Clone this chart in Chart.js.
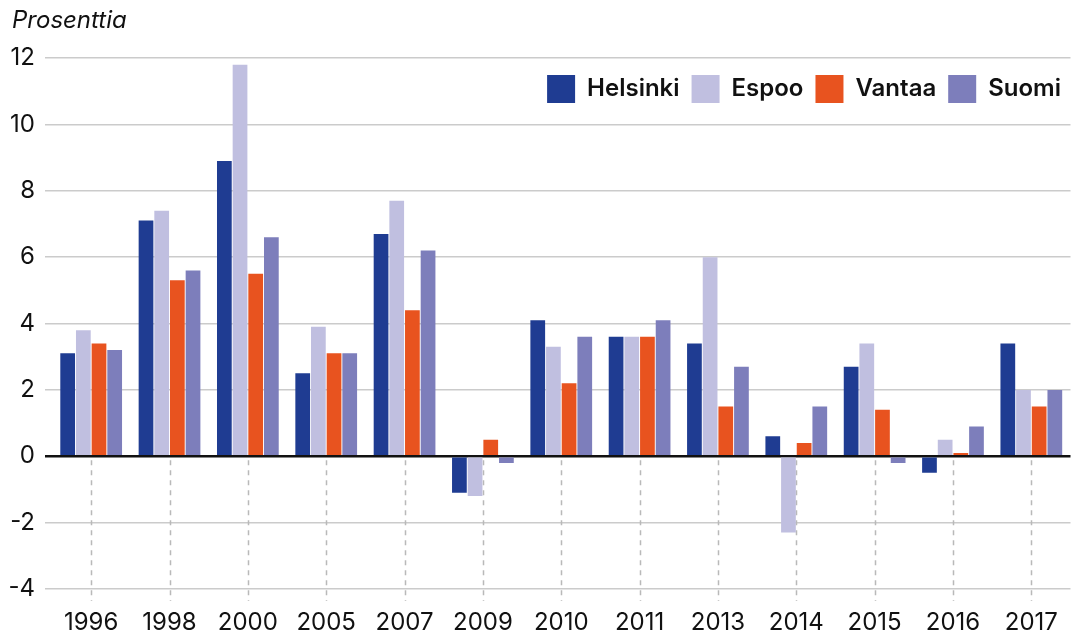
<!DOCTYPE html>
<html>
<head>
<meta charset="utf-8">
<script src="https://cdn.jsdelivr.net/npm/chart.js@4.4.0/dist/chart.umd.min.js"></script>
<style>
  html, body { margin: 0; padding: 0; background: #fff; }
  canvas { display: block; }
</style>
</head>
<body>
<canvas id="chart" width="1080" height="635"></canvas>
<script>
const years = ['1996', '1998', '2000', '2005', '2007', '2009', '2010', '2011', '2013', '2014', '2015', '2016', '2017']
const helsinki = [3.1, 7.1, 8.9, 2.5, 6.7, -1.1, 4.1, 3.6, 3.4, 0.6, 2.7, -0.5, 3.4]
const espoo = [3.8, 7.4, 11.8, 3.9, 7.7, -1.2, 3.3, 3.6, 6.0, -2.3, 3.4, 0.5, 2.0]
const vantaa = [3.4, 5.3, 5.5, 3.1, 4.4, 0.5, 2.2, 3.6, 1.5, 0.4, 1.4, 0.1, 1.5]
const suomi = [3.2, 5.6, 6.6, 3.1, 6.2, -0.2, 3.6, 4.1, 2.7, 1.5, -0.2, 0.9, 2.0]
const yTicks = [-4, -2, 0, 2, 4, 6, 8, 10, 12]
const unitLabel = 'Prosenttia'

const FONT = 'Inter'

// dashed guide lines under each year, from the zero line down
const zeroDashes = {
  id: 'zeroDashes',
  beforeDatasetsDraw(chart) {
    const { ctx, scales: { x, y }, chartArea } = chart
    const y0 = y.getPixelForValue(0)
    ctx.save()
    ctx.strokeStyle = '#b9b9b9'
    ctx.lineWidth = 1.5
    ctx.setLineDash([5, 5])
    years.forEach((yr, i) => {
      const px = Math.round(x.getPixelForTick(i)) + 0.5
      ctx.beginPath()
      ctx.moveTo(px, y0 + 4)
      ctx.lineTo(px, chartArea.bottom + 12)
      ctx.stroke()
    })
    ctx.restore()
  }
}

const unitTitle = {
  id: 'unitTitle',
  afterDraw(chart) {
    const ctx = chart.ctx
    ctx.save()
    ctx.font = `italic 24px ${FONT}`
    ctx.fillStyle = '#111'
    ctx.textBaseline = 'middle'
    ctx.fillText(unitLabel, 12, 21)
    ctx.restore()
  }
}

// legend is laid out on top, then moved down into the plot
const legendShift = {
  id: 'legendShift',
  afterLayout(chart) {
    const lg = chart.legend
    const h = lg.bottom - lg.top
    lg.top = 63
    lg.bottom = 63 + h
    lg.left -= 4
    lg.right -= 4
  }
}

const ctx = document.getElementById('chart').getContext('2d')
const myChart = new Chart(ctx, {
  type: 'bar',
  data: {
    labels: years,
    datasets: [
      { label: 'Helsinki', data: helsinki, backgroundColor: '#1f3c92' },
      { label: 'Espoo', data: espoo, backgroundColor: '#c0bfe0' },
      { label: 'Vantaa', data: vantaa, backgroundColor: '#e8531f' },
      { label: 'Suomi', data: suomi, backgroundColor: '#7d7ebb' },
    ]
  },
  options: {
    responsive: false,
    animation: false,
    datasets: {
      bar: { borderWidth: 0, categoryPercentage: 0.8, barPercentage: 0.94 }
    },
    layout: { padding: { top: 8, right: 3, bottom: 0, left: 0 } },
    plugins: {
      tooltip: { enabled: false },
      legend: {
        position: 'top',
        align: 'end',
        labels: {
          boxWidth: 28,
          boxHeight: 28,
          padding: 12,
          color: '#111',
          font: { family: FONT, size: 24, weight: '600' }
        }
      }
    },
    scales: {
      x: {
        grid: { display: false, drawTicks: false },
        border: { display: false },
        afterFit: s => { s.height = 46 },
        ticks: {
          color: '#111',
          padding: 22,
          autoSkip: false,
          maxRotation: 0,
          font: { family: FONT, size: 24, lineHeight: 1 }
        }
      },
      y: {
        min: -4,
        max: 12,
        afterBuildTicks: s => { s.ticks = yTicks.map(v => ({ value: v })) },
        afterFit: s => { s.width = 52 },
        border: { display: false },
        grid: {
          color: c => c.tick.value === 0 ? '#111' : '#cbcbcb',
          lineWidth: c => c.tick.value === 0 ? 2.5 : 1.5,
          tickLength: 7
        },
        ticks: {
          color: '#111',
          padding: 10,
          font: { family: FONT, size: 24 }
        }
      }
    }
  },
  plugins: [zeroDashes, unitTitle, legendShift]
})
</script>
</body>
</html>
